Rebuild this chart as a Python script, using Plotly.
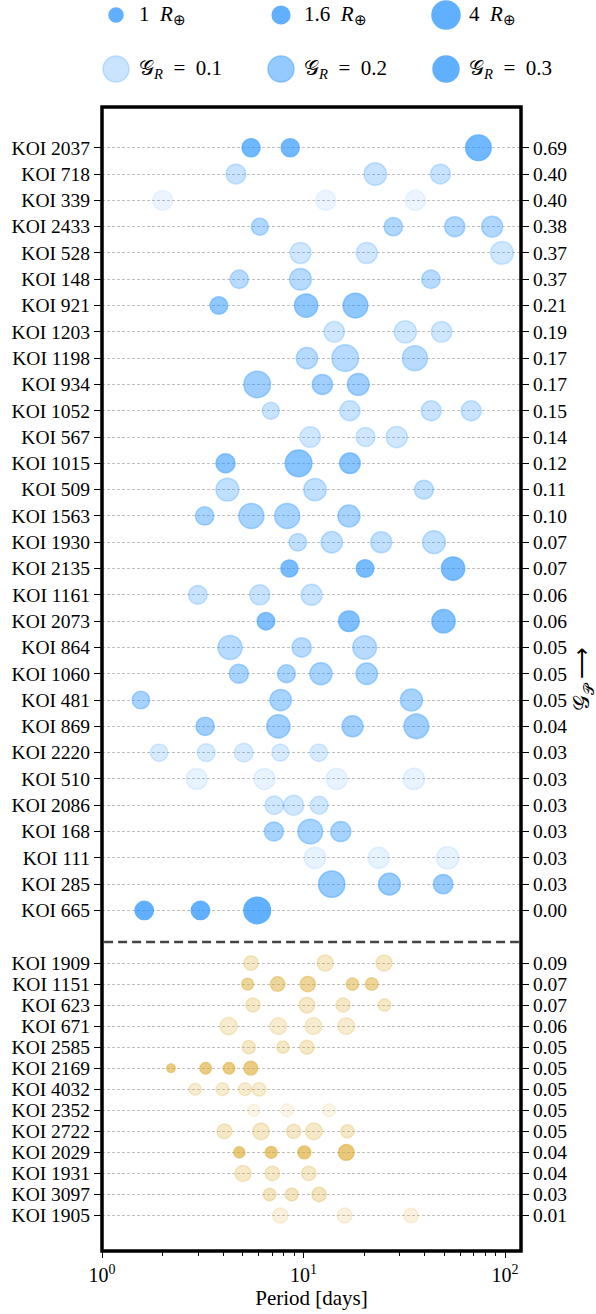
import numpy as np
import plotly.graph_objects as go

# ---------------- data ----------------
top_names = ["KOI 2037", "KOI 718", "KOI 339", "KOI 2433", "KOI 528", "KOI 148", "KOI 921",
             "KOI 1203", "KOI 1198", "KOI 934", "KOI 1052", "KOI 567", "KOI 1015", "KOI 509",
             "KOI 1563", "KOI 1930", "KOI 2135", "KOI 1161", "KOI 2073", "KOI 864", "KOI 1060",
             "KOI 481", "KOI 869", "KOI 2220", "KOI 510", "KOI 2086", "KOI 168", "KOI 111",
             "KOI 285", "KOI 665"]
top_gp = [0.69, 0.40, 0.40, 0.38, 0.37, 0.37, 0.21, 0.19, 0.17, 0.17, 0.15, 0.14, 0.12, 0.11,
          0.10, 0.07, 0.07, 0.06, 0.06, 0.05, 0.05, 0.05, 0.04, 0.03, 0.03, 0.03, 0.03, 0.03,
          0.03, 0.00]
top_gr = [0.27, 0.105, 0.035, 0.15, 0.09, 0.135, 0.21, 0.09, 0.135, 0.18, 0.105, 0.09, 0.225,
          0.12, 0.165, 0.12, 0.255, 0.105, 0.24, 0.135, 0.165, 0.165, 0.18, 0.075, 0.045, 0.09,
          0.165, 0.045, 0.195, 0.30]
top_periods = [
    [5.49, 8.59, 73.8],
    [4.62, 22.7, 47.8],
    [2.0, 12.9, 35.9],
    [6.07, 27.9, 56.3, 86.3],
    [9.66, 20.6, 96.6],
    [4.80, 9.66, 42.9],
    [3.80, 10.3, 18.1],
    [14.2, 32.0, 48.4],
    [10.4, 16.1, 35.7],
    [5.89, 12.4, 18.7],
    [6.88, 17.0, 43.0, 67.9],
    [10.8, 20.3, 29.0],
    [4.10, 9.45, 17.0],
    [4.19, 11.4, 39.6],
    [3.23, 5.51, 8.3, 16.8],
    [9.37, 13.8, 24.3, 44.4],
    [8.51, 20.2, 55.2],
    [2.99, 6.07, 10.96],
    [6.51, 16.8, 49.5],
    [4.32, 9.79, 20.1],
    [4.78, 8.23, 12.2, 20.6],
    [1.56, 7.7, 34.3],
    [3.25, 7.5, 17.5, 36.3],
    [1.92, 3.29, 5.05, 7.67, 11.9],
    [2.95, 6.39, 14.6, 35.3],
    [7.16, 8.93, 11.95],
    [7.13, 10.8, 15.3],
    [11.4, 23.6, 51.9],
    [13.8, 26.7, 49.3],
    [1.62, 3.08, 5.89],
]
top_radii = [
    [1.65, 1.65, 3.3],
    [2.0, 2.56, 2.0],
    [2.0, 2.04, 2.04],
    [1.47, 1.71, 2.04, 2.25],
    [2.25, 2.25, 2.65],
    [1.71, 2.4, 1.76],
    [1.56, 2.75, 3.1],
    [2.14, 2.56, 2.14],
    [2.31, 3.6, 3.19],
    [3.6, 2.04, 2.4],
    [1.49, 2.04, 2.04, 2.04],
    [2.14, 1.84, 2.31],
    [1.84, 3.6, 2.14],
    [2.65, 2.56, 1.84],
    [1.71, 3.19, 3.19, 2.47],
    [1.56, 2.31, 2.25, 2.65],
    [1.49, 1.56, 2.75],
    [1.76, 2.04, 2.25],
    [1.56, 2.14, 2.75],
    [2.94, 1.92, 2.84],
    [1.84, 1.63, 2.47, 2.31],
    [1.56, 2.31, 2.47],
    [1.71, 2.75, 2.25, 3.1],
    [1.56, 1.63, 1.76, 1.49, 1.56],
    [2.25, 2.25, 2.25, 2.31],
    [1.76, 2.04, 1.63],
    [1.84, 3.1, 2.04],
    [2.31, 2.25, 2.56],
    [3.5, 2.4, 1.92],
    [1.71, 1.71, 3.6],
]

bot_names = ["KOI 1909", "KOI 1151", "KOI 623", "KOI 671", "KOI 2585", "KOI 2169", "KOI 4032",
             "KOI 2352", "KOI 2722", "KOI 2029", "KOI 1931", "KOI 3097", "KOI 1905"]
bot_gp = [0.09, 0.07, 0.07, 0.06, 0.05, 0.05, 0.05, 0.05, 0.05, 0.04, 0.04, 0.03, 0.01]
bot_gr = [0.105, 0.195, 0.105, 0.09, 0.105, 0.24, 0.09, 0.045, 0.105, 0.255, 0.105, 0.12, 0.06]
bot_periods = [
    [5.49, 12.8, 25.1],
    [5.28, 7.44, 10.5, 17.5, 21.8],
    [5.61, 10.4, 15.7, 25.2],
    [4.25, 7.5, 11.2, 16.3],
    [5.35, 7.91, 10.4],
    [2.20, 3.27, 4.27, 5.47],
    [2.90, 3.96, 5.12, 6.02],
    [5.66, 8.3, 13.4],
    [4.05, 6.15, 8.93, 11.25, 16.5],
    [4.80, 6.91, 10.09, 16.3],
    [5.01, 7.0, 10.6],
    [6.79, 8.74, 11.95],
    [7.67, 16.0, 34.2],
]
bot_radii = [
    [1.06, 1.31, 1.31],
    [0.71, 1.06, 1.18, 0.76, 0.80],
    [1.01, 1.24, 1.01, 0.80],
    [1.49, 1.42, 1.42, 1.42],
    [0.90, 0.76, 1.01],
    [0.36, 0.66, 0.66, 0.96],
    [0.76, 0.85, 0.85, 0.96],
    [0.76, 0.85, 0.85],
    [1.12, 1.42, 1.06, 1.42, 0.90],
    [0.62, 0.71, 0.85, 1.24],
    [1.31, 1.06, 1.06],
    [0.80, 0.85, 1.06],
    [1.18, 1.12, 1.06],
]

legend_radii = [1, 1.6, 4]
legend_radii_labels = ["1", "1.6", "4"]
legend_gr = [0.1, 0.2, 0.3]

# ---------------- style ----------------
FONT = "Liberation Serif, Times New Roman, serif"
BLUE = (30, 144, 255)
GOLD = (218, 165, 32)
W, H = 596, 1314
ML, MR, MT, MB = 102, 75, 0, 63
PLOT_H = H - MT - MB
MAIN_TOP = 107  # pixel from top
main_dom_top = 1 - MAIN_TOP / PLOT_H


def diam(r):
    return 14.0 * np.sqrt(np.asarray(r, dtype=float))


def alpha_of(gr):
    return float(min(1.0, gr / 0.3))


def rgba(c, a):
    return f"rgba({c[0]},{c[1]},{c[2]},{a:.3f})"


top_y = [float(i) for i in range(len(top_names))]
bot_y = [len(top_names) + 1 + 0.8 * j for j in range(len(bot_names))]
sep_y = len(top_names) + 0.2

fig = go.Figure()


def add_rows(names, ys, periods, radii, grs, color):
    for name, y, ps, rs, gr in zip(names, ys, periods, radii, grs):
        a = alpha_of(gr)
        fig.add_trace(go.Scatter(
            x=ps, y=[y] * len(ps), mode="markers", name=name, showlegend=False,
            xaxis="x", yaxis="y",
            marker=dict(size=diam(rs), color=rgba(color, a),
                        line=dict(color=rgba(color, a), width=1.5)),
            cliponaxis=False, hoverinfo="skip"))


add_rows(top_names, top_y, top_periods, top_radii, top_gr, BLUE)
add_rows(bot_names, bot_y, bot_periods, bot_radii, bot_gr, GOLD)

# invisible trace for right axis
all_y = top_y + bot_y
all_gp = [f"{v:.2f}" for v in top_gp + bot_gp]
fig.add_trace(go.Scatter(x=[1, 1], y=[all_y[0], all_y[-1]], mode="markers",
                         marker=dict(opacity=0), xaxis="x", yaxis="y3",
                         showlegend=False, hoverinfo="skip"))

# ---------------- legend (own axes) ----------------
leg_x = [116, 281, 446]
leg_row_y = [15, 69]
fig.add_trace(go.Scatter(
    x=leg_x, y=[leg_row_y[0]] * 3, mode="markers", xaxis="x2", yaxis="y2",
    marker=dict(size=diam(legend_radii), color=rgba(BLUE, 1.0),
                line=dict(color=rgba(BLUE, 1.0), width=1.5)),
    showlegend=False, hoverinfo="skip", cliponaxis=False))
for k, g in enumerate(legend_gr):
    a = alpha_of(g)
    fig.add_trace(go.Scatter(
        x=[leg_x[k]], y=[leg_row_y[1]], mode="markers", xaxis="x2", yaxis="y2",
        marker=dict(size=diam([3.45]), color=rgba(BLUE, a),
                    line=dict(color=rgba(BLUE, a), width=1.5)),
        showlegend=False, hoverinfo="skip", cliponaxis=False))

annotations = []
for k, lab in enumerate(legend_radii_labels):
    annotations.append(dict(x=leg_x[k] + 21, y=leg_row_y[0], xref="x2", yref="y2",
                            text=f"{lab}\u2002<i>R</i><sub>⊕</sub>", showarrow=False,
                            xanchor="left", yanchor="middle",
                            font=dict(family=FONT, size=21, color="black")))
for k, g in enumerate(legend_gr):
    annotations.append(dict(x=leg_x[k] + 21, y=leg_row_y[1], xref="x2", yref="y2",
                            text=f"𝒢<sub><i>R</i></sub>\u2002=\u2002{g:.1f}", showarrow=False,
                            xanchor="left", yanchor="middle",
                            font=dict(family=FONT, size=21, color="black")))
# right axis title
annotations.append(dict(x=1, xref="paper", xshift=62, y=main_dom_top / 2, yref="paper",
                        text="𝒢<sub>𝒫</sub> ⟶", textangle=-90, showarrow=False,
                        xanchor="center", yanchor="middle",
                        font=dict(family=FONT, size=22, color="black")))

y_range = [41.95, -1.55]
minor_vals = [m * d for d in (1, 10, 100) for m in range(2, 10) if m * d < 120]

fig.update_layout(
    width=W, height=H, margin=dict(l=ML, r=MR, t=MT, b=MB),
    paper_bgcolor="white", plot_bgcolor="white",
    font=dict(family=FONT, size=18, color="black"),
    xaxis=dict(type="log", range=[0, np.log10(120)], domain=[0, 1], anchor="y",
               tickmode="array", tickvals=[1, 10, 100],
               ticktext=["10<sup>0</sup>", "10<sup>1</sup>", "10<sup>2</sup>"],
               ticks="outside", ticklen=6, tickwidth=1.2, tickcolor="black",
               minor=dict(tickmode="array", tickvals=minor_vals, ticks="outside",
                          ticklen=3.5, tickwidth=1, tickcolor="black", showgrid=False),
               showgrid=False, zeroline=False, showline=False,
               tickfont=dict(family=FONT, size=20),
               title=dict(text="Period [days]", font=dict(family=FONT, size=21), standoff=5)),
    yaxis=dict(domain=[0, main_dom_top], range=y_range, anchor="x",
               tickmode="array", tickvals=all_y, ticktext=top_names + bot_names,
               ticks="outside", ticklen=7, tickwidth=1, tickcolor="black",
               showgrid=True, gridcolor="#c0c0c0", gridwidth=0.8, griddash="3px,2px",
               zeroline=False, showline=False, tickfont=dict(family=FONT, size=19.5)),
    yaxis3=dict(overlaying="y", side="right", range=y_range, anchor="x",
                tickmode="array", tickvals=all_y, ticktext=all_gp,
                ticks="outside", ticklen=7, tickwidth=1, tickcolor="black",
                showgrid=False, zeroline=False, showline=False,
                tickfont=dict(family=FONT, size=19.5)),
    xaxis2=dict(domain=[0, 1], anchor="y2", range=[ML, W - MR], visible=False),
    yaxis2=dict(domain=[main_dom_top, 1], anchor="x2", range=[MAIN_TOP, 0], visible=False),
    annotations=annotations,
    shapes=[
        dict(type="rect", xref="paper", yref="paper", x0=0, x1=1, y0=0, y1=main_dom_top,
             line=dict(color="black", width=3.5), fillcolor="rgba(0,0,0,0)", layer="above"),
        dict(type="line", xref="x domain", yref="y", x0=0.005, x1=0.995, y0=sep_y, y1=sep_y,
             line=dict(color="#444444", width=2.5, dash="9px,5px")),
    ],
)

fig.write_html("out.html")
